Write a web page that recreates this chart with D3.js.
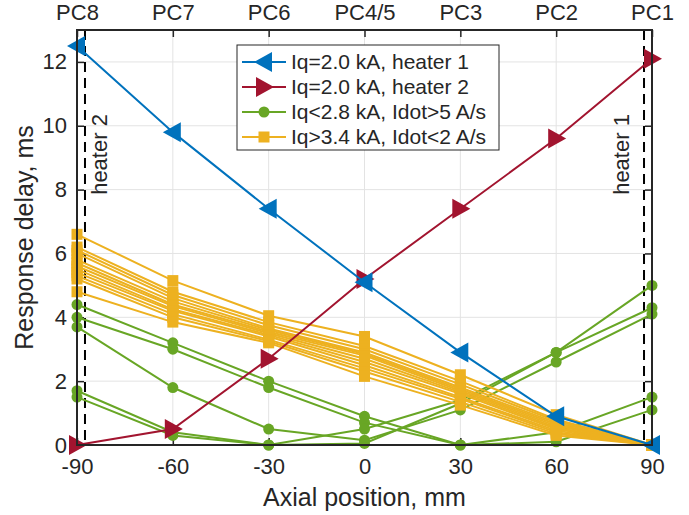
<!DOCTYPE html>
<html>
<head>
<meta charset="utf-8">
<script src="https://cdn.jsdelivr.net/npm/d3@7"></script>
<style>
  html, body { margin: 0; padding: 0; background: #fff; }
  svg { display: block; }
  text { font-family: "Liberation Sans", Arial, Helvetica, sans-serif; fill: #262626; }
</style>
</head>
<body>
<svg id="chart" width="689" height="515"></svg>
<script>
// Axial positions of the pickup coils (mm)
const positions = [-90, -60, -30, 0, 30, 60, 90];
const pcLabels = ["PC8", "PC7", "PC6", "PC4/5", "PC3", "PC2", "PC1"];
const xTicks = [-90, -60, -30, 0, 30, 60, 90];
const yTicks = [0, 2, 4, 6, 8, 10, 12];

// Heater locations (mm)
const heaterPos = [-87.5, 87.5];
const heaterLabels = ["heater 2", "heater 1"];

// Response delays (ms) at each position
const heater1 = [12.5, 9.8, 7.4, 5.1, 2.9, 0.9, 0.0];
const heater2 = [0.0, 0.5, 2.7, 5.2, 7.4, 9.6, 12.1];

// Iq < 2.8 kA, Idot > 5 A/s
const fastRamp = [
  [4.4, 3.2, 2.0, 0.9, 0.0, 0.4, 1.5],
  [4.0, 3.0, 1.8, 0.7, 0.0, 0.1, 1.1],
  [3.7, 1.8, 0.5, 0.15, 1.1, 2.6, 4.1],
  [1.7, 0.4, 0.0, 0.05, 1.3, 2.9, 5.0],
  [1.5, 0.3, 0.0, 0.5, 1.4, 2.9, 4.3]
];

// Iq > 3.4 kA, Idot < 2 A/s
const slowRamp = [
  [6.6, 5.15, 4.05, 3.4, 2.2, 0.95, 0.0],
  [6.2, 4.8, 3.85, 3.1, 2.0, 0.8, 0.0],
  [6.1, 4.7, 3.75, 3.0, 1.9, 0.75, 0.0],
  [6.0, 4.6, 3.65, 2.9, 1.8, 0.7, 0.0],
  [5.8, 4.5, 3.6, 2.85, 1.75, 0.65, 0.0],
  [5.7, 4.4, 3.55, 2.8, 1.7, 0.6, 0.0],
  [5.6, 4.35, 3.5, 2.7, 1.65, 0.55, 0.0],
  [5.5, 4.25, 3.45, 2.6, 1.6, 0.5, 0.0],
  [5.4, 4.2, 3.4, 2.5, 1.5, 0.45, 0.0],
  [5.3, 4.1, 3.3, 2.4, 1.45, 0.4, 0.0],
  [5.2, 4.0, 3.25, 2.3, 1.35, 0.35, 0.0],
  [4.8, 3.85, 3.2, 2.15, 1.25, 0.3, 0.0]
];

const legendLabels = [
  "Iq=2.0 kA, heater 1",
  "Iq=2.0 kA, heater 2",
  "Iq<2.8 kA, Idot>5 A/s",
  "Iq>3.4 kA, Idot<2 A/s"
];

const colors = {
  blue: "#0072BD",
  red: "#A2142F",
  green: "#68A625",
  yellow: "#EDB120",
  axis: "#262626",
  grid: "#E3E3E3"
};

const plot = { left: 77, right: 652, top: 30, bottom: 445 };

const svg = d3.select("#chart");
const x = d3.scaleLinear().domain([-90, 90]).range([plot.left, plot.right]);
const y = d3.scaleLinear().domain([0, 13]).range([plot.bottom, plot.top]);

// Grid
const grid = svg.append("g");
grid.selectAll("line.gx").data(xTicks).join("line")
  .attr("x1", d => x(d)).attr("x2", d => x(d))
  .attr("y1", plot.top).attr("y2", plot.bottom)
  .attr("stroke", colors.grid).attr("stroke-width", 1);
grid.selectAll("line.gy").data(yTicks).join("line")
  .attr("x1", plot.left).attr("x2", plot.right)
  .attr("y1", d => y(d)).attr("y2", d => y(d))
  .attr("stroke", colors.grid).attr("stroke-width", 1);

// Heater markers
svg.append("g").selectAll("line").data(heaterPos).join("line")
  .attr("x1", d => x(d)).attr("x2", d => x(d))
  .attr("y1", plot.top).attr("y2", plot.bottom)
  .attr("stroke", "#000").attr("stroke-width", 2)
  .attr("stroke-dasharray", "10,6");
svg.append("g").selectAll("text").data(heaterPos).join("text")
  .attr("transform", (d, i) => `translate(${x(d) + (i === 0 ? 22 : -15)},${y(9.1)}) rotate(-90)`)
  .attr("text-anchor", "middle")
  .attr("font-size", 22)
  .text((d, i) => heaterLabels[i]);

// Axes (plain hyphen for negative numbers)
const fmt = d => String(d);
const tickLen = 7;
const axisStyle = g => {
  g.select(".domain").remove();
  g.selectAll(".tick line").attr("stroke", colors.axis).attr("stroke-width", 1.5);
  g.selectAll(".tick text").attr("fill", colors.axis).attr("font-size", 22)
    .attr("font-family", "'Liberation Sans', Arial, sans-serif");
};

svg.append("g").attr("transform", `translate(0,${plot.bottom})`)
  .call(d3.axisBottom(x).tickValues(xTicks).tickFormat(fmt).tickSizeInner(-tickLen).tickSizeOuter(0).tickPadding(13))
  .call(axisStyle);
svg.append("g").attr("transform", `translate(0,${plot.top})`)
  .call(d3.axisTop(x).tickValues(xTicks).tickFormat((d, i) => pcLabels[i]).tickSizeInner(-tickLen).tickSizeOuter(0).tickPadding(10))
  .call(axisStyle);
svg.append("g").attr("transform", `translate(${plot.left},0)`)
  .call(d3.axisLeft(y).tickValues(yTicks).tickFormat(fmt).tickSizeInner(-tickLen).tickSizeOuter(0).tickPadding(10))
  .call(axisStyle);
svg.append("g").attr("transform", `translate(${plot.right},0)`)
  .call(d3.axisRight(y).tickValues(yTicks).tickFormat("").tickSizeInner(-tickLen).tickSizeOuter(0))
  .call(axisStyle);

// Axis labels
svg.append("text")
  .attr("x", (plot.left + plot.right) / 2).attr("y", 506)
  .attr("text-anchor", "middle").attr("font-size", 25)
  .text("Axial position, mm");
svg.append("text")
  .attr("transform", `translate(33,${(plot.top + plot.bottom) / 2}) rotate(-90)`)
  .attr("text-anchor", "middle").attr("font-size", 25)
  .text("Response delay, ms");

// Series
const line = d3.line().x((d, i) => x(positions[i])).y(d => y(d));
const triLeft = "M-10,0 L8,-10 L8,10 Z";
const triRight = "M10,0 L-8,-10 L-8,10 Z";

function drawSeries(values, color, marker) {
  const g = svg.append("g");
  g.append("path").datum(values)
    .attr("d", line).attr("fill", "none")
    .attr("stroke", color).attr("stroke-width", 2);
  const pts = g.selectAll("g.m").data(values).join("g")
    .attr("transform", (d, i) => `translate(${x(positions[i])},${y(d)})`);
  marker(pts, color);
}

const circleMarker = (sel, color) => sel.append("circle").attr("r", 5.5).attr("fill", color);
const squareMarker = (sel, color) => sel.append("rect")
  .attr("x", -5.5).attr("y", -5.5).attr("width", 11).attr("height", 11).attr("fill", color);
const pathMarker = p => (sel, color) => sel.append("path").attr("d", p).attr("fill", color);

fastRamp.forEach(s => drawSeries(s, colors.green, circleMarker));
slowRamp.forEach(s => drawSeries(s, colors.yellow, squareMarker));
drawSeries(heater2, colors.red, pathMarker(triRight));
drawSeries(heater1, colors.blue, pathMarker(triLeft));

// Axes box
svg.append("rect")
  .attr("x", plot.left).attr("y", plot.top)
  .attr("width", plot.right - plot.left).attr("height", plot.bottom - plot.top)
  .attr("fill", "none").attr("stroke", colors.axis).attr("stroke-width", 2);

// Legend
const legend = { x: 237, y: 45, w: 262, h: 105, row: 25 };
const lg = svg.append("g");
lg.append("rect")
  .attr("x", legend.x).attr("y", legend.y).attr("width", legend.w).attr("height", legend.h)
  .attr("fill", "#fff").attr("stroke", colors.axis).attr("stroke-width", 1);
const legendItems = [
  { color: colors.blue, marker: pathMarker(triLeft) },
  { color: colors.red, marker: pathMarker(triRight) },
  { color: colors.green, marker: circleMarker },
  { color: colors.yellow, marker: squareMarker }
];
legendItems.forEach((it, i) => {
  const cy = legend.y + 17 + i * legend.row;
  lg.append("line")
    .attr("x1", legend.x + 5).attr("x2", legend.x + 49)
    .attr("y1", cy).attr("y2", cy)
    .attr("stroke", it.color).attr("stroke-width", 2);
  const m = lg.append("g").attr("transform", `translate(${legend.x + 27},${cy})`);
  it.marker(m, it.color);
  lg.append("text")
    .attr("x", legend.x + 54).attr("y", cy)
    .attr("dy", "0.35em").attr("font-size", 21)
    .text(legendLabels[i]);
});
</script>
</body>
</html>
